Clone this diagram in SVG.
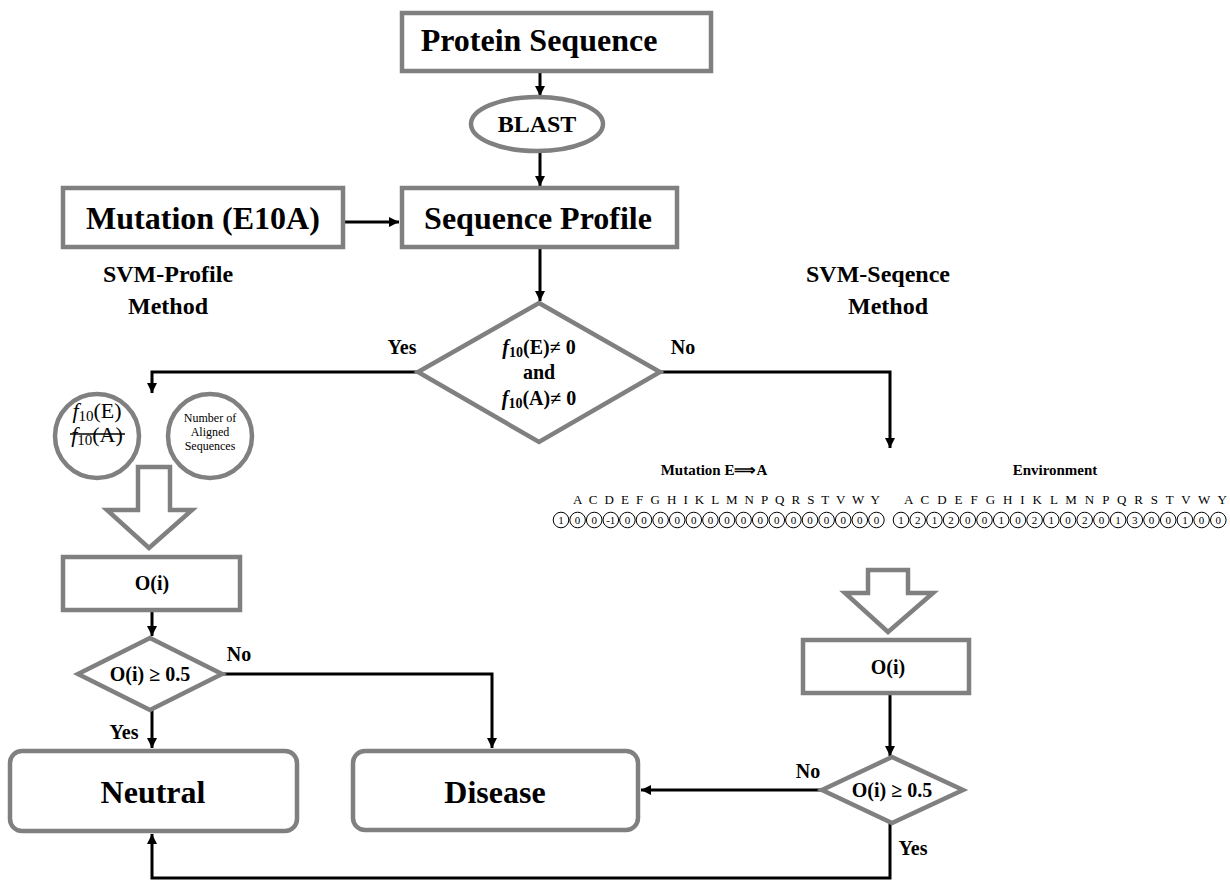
<svg xmlns="http://www.w3.org/2000/svg" width="1230" height="881" viewBox="0 0 1230 881">
  <defs>
    <marker id="arrow" markerUnits="userSpaceOnUse" markerWidth="12" markerHeight="12" refX="10" refY="5" orient="auto">
      <path d="M0,0 L10,5 L0,10 z" fill="#000"/>
    </marker>
    <style>
      .box { fill: #fff; stroke: #808080; stroke-width: 4.5; }
      .blk { fill: #fff; stroke: #808080; stroke-width: 4.5; stroke-linejoin: miter; }
      .conn { fill: none; stroke: #000; stroke-width: 3; }
      .t { font-family: "Liberation Serif", "Times New Roman", serif; fill: #000; text-anchor: middle; }
      .b { font-weight: bold; }
      .seqc { fill: #fff; stroke: #000; stroke-width: 1; }
      .num { font-family: "Liberation Serif", serif; font-size: 11px; text-anchor: middle; fill: #000; }
    </style>
  </defs>

  <rect width="1230" height="881" fill="#fff"/>

  <!-- connectors -->
  <g id="connectors">
    <path class="conn" d="M540 72 V96" marker-end="url(#arrow)"/>
    <path class="conn" d="M540 152 V186" marker-end="url(#arrow)"/>
    <path class="conn" d="M345 222 H399" marker-end="url(#arrow)"/>
    <path class="conn" d="M540 249 V301" marker-end="url(#arrow)"/>
    <path class="conn" d="M418 372 H152 V393" marker-end="url(#arrow)"/>
    <path class="conn" d="M660 372 H890 V448" marker-end="url(#arrow)"/>
    <path class="conn" d="M152 612 V636" marker-end="url(#arrow)"/>
    <path class="conn" d="M222 674 H492 V748" marker-end="url(#arrow)"/>
    <path class="conn" d="M152 710 V748" marker-end="url(#arrow)"/>
    <path class="conn" d="M890 695 V756" marker-end="url(#arrow)"/>
    <path class="conn" d="M822 790 H641" marker-end="url(#arrow)"/>
    <path class="conn" d="M890 823 V878 H152 V834" marker-end="url(#arrow)"/>
  </g>

  <!-- edge labels and method titles -->
  <g id="labels" class="t b" font-size="20">
    <text x="402" y="354">Yes</text>
    <text x="683" y="354">No</text>
    <text x="239" y="661">No</text>
    <text x="124" y="739">Yes</text>
    <text x="808" y="778">No</text>
    <text x="913" y="855">Yes</text>
    <text x="168" y="282" font-size="24">SVM-Profile</text>
    <text x="168" y="314" font-size="24">Method</text>
    <text x="878" y="282" font-size="24">SVM-Seqence</text>
    <text x="888" y="314" font-size="24">Method</text>
  </g>

  <g id="protein-sequence">
    <rect class="box" x="402" y="13" width="309" height="58"/>
    <text class="t b" x="539" y="51" font-size="32">Protein Sequence</text>
  </g>

  <g id="blast">
    <ellipse class="box" cx="537" cy="124" rx="66" ry="27"/>
    <text class="t b" x="537" y="132" font-size="24">BLAST</text>
  </g>

  <g id="mutation">
    <rect class="box" x="63" y="188" width="280" height="59"/>
    <text class="t b" x="203" y="229" font-size="32">Mutation (E10A)</text>
  </g>

  <g id="sequence-profile">
    <rect class="box" x="402" y="188" width="275" height="59"/>
    <text class="t b" x="538" y="229" font-size="32">Sequence Profile</text>
  </g>

  <g id="decision-profile">
    <polygon class="box" points="539,303 660,372 539,442 418,372"/>
    <text class="t b" x="539" y="354" font-size="20"><tspan font-style="italic">f</tspan><tspan font-size="14" dy="3">10</tspan><tspan dy="-3">(E)≠ 0</tspan></text>
    <text class="t b" x="539" y="379" font-size="20">and</text>
    <text class="t b" x="539" y="405" font-size="20"><tspan font-style="italic">f</tspan><tspan font-size="14" dy="3">10</tspan><tspan dy="-3">(A)≠ 0</tspan></text>
  </g>

  <g id="ratio-circle">
    <circle class="box" cx="97" cy="436" r="42"/>
    <text class="t" x="97" y="418" font-size="22"><tspan font-style="italic">f</tspan><tspan font-size="15" dy="3">10</tspan><tspan dy="-3">(E)</tspan></text>
    <text class="t" x="97" y="442" font-size="22"><tspan font-style="italic">f</tspan><tspan font-size="15" dy="3">10</tspan><tspan dy="-3">(A)</tspan></text>
    <line x1="70" y1="434" x2="125" y2="434" stroke="#000" stroke-width="1.5"/>
  </g>

  <g id="aligned-circle">
    <circle class="box" cx="210" cy="436" r="42"/>
    <text class="t" x="210" y="422" font-size="12">Number of</text>
    <text class="t" x="210" y="436" font-size="12">Aligned</text>
    <text class="t" x="210" y="450" font-size="12">Sequences</text>
  </g>

  <g id="block-arrow-left">
    <polygon class="blk" points="138,467 170,467 170,510 192,510 149,548 107,510 138,510"/>
  </g>

  <g id="output-profile">
    <rect class="box" x="63" y="557" width="177" height="53"/>
    <text class="t b" x="152" y="590" font-size="20">O(i)</text>
  </g>

  <g id="threshold-profile">
    <polygon class="box" points="150,638 222,674 150,710 78,674"/>
    <text class="t b" x="150" y="681" font-size="20">O(i) ≥ 0.5</text>
  </g>

  <g id="neutral">
    <rect class="box" x="10" y="751" width="287" height="80" rx="12"/>
    <text class="t b" x="153" y="803" font-size="32">Neutral</text>
  </g>

  <g id="disease">
    <rect class="box" x="353" y="751" width="285" height="79" rx="12"/>
    <text class="t b" x="495" y="803" font-size="32">Disease</text>
  </g>

  <!-- sequence encoding -->
  <g id="encoding">
    <text class="t b" x="714" y="475" font-size="15">Mutation E⟹A</text>
    <text class="t b" x="1055" y="475" font-size="15">Environment</text>
    <text class="t" x="573" y="504" font-size="13" text-anchor="start" textLength="307" lengthAdjust="spacing" style="text-anchor:start">A C D E F G H I K L M N P Q R S T V W Y</text>
    <text class="t" x="904" y="504" font-size="13" textLength="323" lengthAdjust="spacing" style="text-anchor:start">A C D E F G H I K L M N P Q R S T V W Y</text>
    <g id="mutation-vector">
      <circle class="seqc" cx="561" cy="520" r="7.8"/><text class="num" x="561" y="524">1</text>
      <circle class="seqc" cx="577.6" cy="520" r="7.8"/><text class="num" x="577.6" y="524">0</text>
      <circle class="seqc" cx="594.2" cy="520" r="7.8"/><text class="num" x="594.2" y="524">0</text>
      <circle class="seqc" cx="610.8" cy="520" r="7.8"/><text class="num" x="610.8" y="524">-1</text>
      <circle class="seqc" cx="627.4" cy="520" r="7.8"/><text class="num" x="627.4" y="524">0</text>
      <circle class="seqc" cx="644" cy="520" r="7.8"/><text class="num" x="644" y="524">0</text>
      <circle class="seqc" cx="660.6" cy="520" r="7.8"/><text class="num" x="660.6" y="524">0</text>
      <circle class="seqc" cx="677.2" cy="520" r="7.8"/><text class="num" x="677.2" y="524">0</text>
      <circle class="seqc" cx="693.8" cy="520" r="7.8"/><text class="num" x="693.8" y="524">0</text>
      <circle class="seqc" cx="710.4" cy="520" r="7.8"/><text class="num" x="710.4" y="524">0</text>
      <circle class="seqc" cx="727" cy="520" r="7.8"/><text class="num" x="727" y="524">0</text>
      <circle class="seqc" cx="743.6" cy="520" r="7.8"/><text class="num" x="743.6" y="524">0</text>
      <circle class="seqc" cx="760.2" cy="520" r="7.8"/><text class="num" x="760.2" y="524">0</text>
      <circle class="seqc" cx="776.8" cy="520" r="7.8"/><text class="num" x="776.8" y="524">0</text>
      <circle class="seqc" cx="793.4" cy="520" r="7.8"/><text class="num" x="793.4" y="524">0</text>
      <circle class="seqc" cx="810" cy="520" r="7.8"/><text class="num" x="810" y="524">0</text>
      <circle class="seqc" cx="826.6" cy="520" r="7.8"/><text class="num" x="826.6" y="524">0</text>
      <circle class="seqc" cx="843.2" cy="520" r="7.8"/><text class="num" x="843.2" y="524">0</text>
      <circle class="seqc" cx="859.8" cy="520" r="7.8"/><text class="num" x="859.8" y="524">0</text>
      <circle class="seqc" cx="876.4" cy="520" r="7.8"/><text class="num" x="876.4" y="524">0</text>
    </g>
    <g id="environment-vector">
      <circle class="seqc" cx="901" cy="520" r="7.8"/><text class="num" x="901" y="524">1</text>
      <circle class="seqc" cx="917.7" cy="520" r="7.8"/><text class="num" x="917.7" y="524">2</text>
      <circle class="seqc" cx="934.4" cy="520" r="7.8"/><text class="num" x="934.4" y="524">1</text>
      <circle class="seqc" cx="951.1" cy="520" r="7.8"/><text class="num" x="951.1" y="524">2</text>
      <circle class="seqc" cx="967.8" cy="520" r="7.8"/><text class="num" x="967.8" y="524">0</text>
      <circle class="seqc" cx="984.5" cy="520" r="7.8"/><text class="num" x="984.5" y="524">0</text>
      <circle class="seqc" cx="1001.2" cy="520" r="7.8"/><text class="num" x="1001.2" y="524">1</text>
      <circle class="seqc" cx="1017.9" cy="520" r="7.8"/><text class="num" x="1017.9" y="524">0</text>
      <circle class="seqc" cx="1034.6" cy="520" r="7.8"/><text class="num" x="1034.6" y="524">2</text>
      <circle class="seqc" cx="1051.3" cy="520" r="7.8"/><text class="num" x="1051.3" y="524">1</text>
      <circle class="seqc" cx="1068" cy="520" r="7.8"/><text class="num" x="1068" y="524">0</text>
      <circle class="seqc" cx="1084.7" cy="520" r="7.8"/><text class="num" x="1084.7" y="524">2</text>
      <circle class="seqc" cx="1101.4" cy="520" r="7.8"/><text class="num" x="1101.4" y="524">0</text>
      <circle class="seqc" cx="1118.1" cy="520" r="7.8"/><text class="num" x="1118.1" y="524">1</text>
      <circle class="seqc" cx="1134.8" cy="520" r="7.8"/><text class="num" x="1134.8" y="524">3</text>
      <circle class="seqc" cx="1151.5" cy="520" r="7.8"/><text class="num" x="1151.5" y="524">0</text>
      <circle class="seqc" cx="1168.2" cy="520" r="7.8"/><text class="num" x="1168.2" y="524">0</text>
      <circle class="seqc" cx="1184.9" cy="520" r="7.8"/><text class="num" x="1184.9" y="524">1</text>
      <circle class="seqc" cx="1201.6" cy="520" r="7.8"/><text class="num" x="1201.6" y="524">0</text>
      <circle class="seqc" cx="1218.3" cy="520" r="7.8"/><text class="num" x="1218.3" y="524">0</text>
    </g>
  </g>

  <g id="block-arrow-right">
    <polygon class="blk" points="868,570 908,570 908,593 933,593 888,632 845,593 868,593"/>
  </g>

  <g id="output-sequence">
    <rect class="box" x="803" y="640" width="166" height="53"/>
    <text class="t b" x="888" y="674" font-size="20">O(i)</text>
  </g>

  <g id="threshold-sequence">
    <polygon class="box" points="892,757 963,790 892,823 822,790"/>
    <text class="t b" x="892" y="797" font-size="20">O(i) ≥ 0.5</text>
  </g>
</svg>
